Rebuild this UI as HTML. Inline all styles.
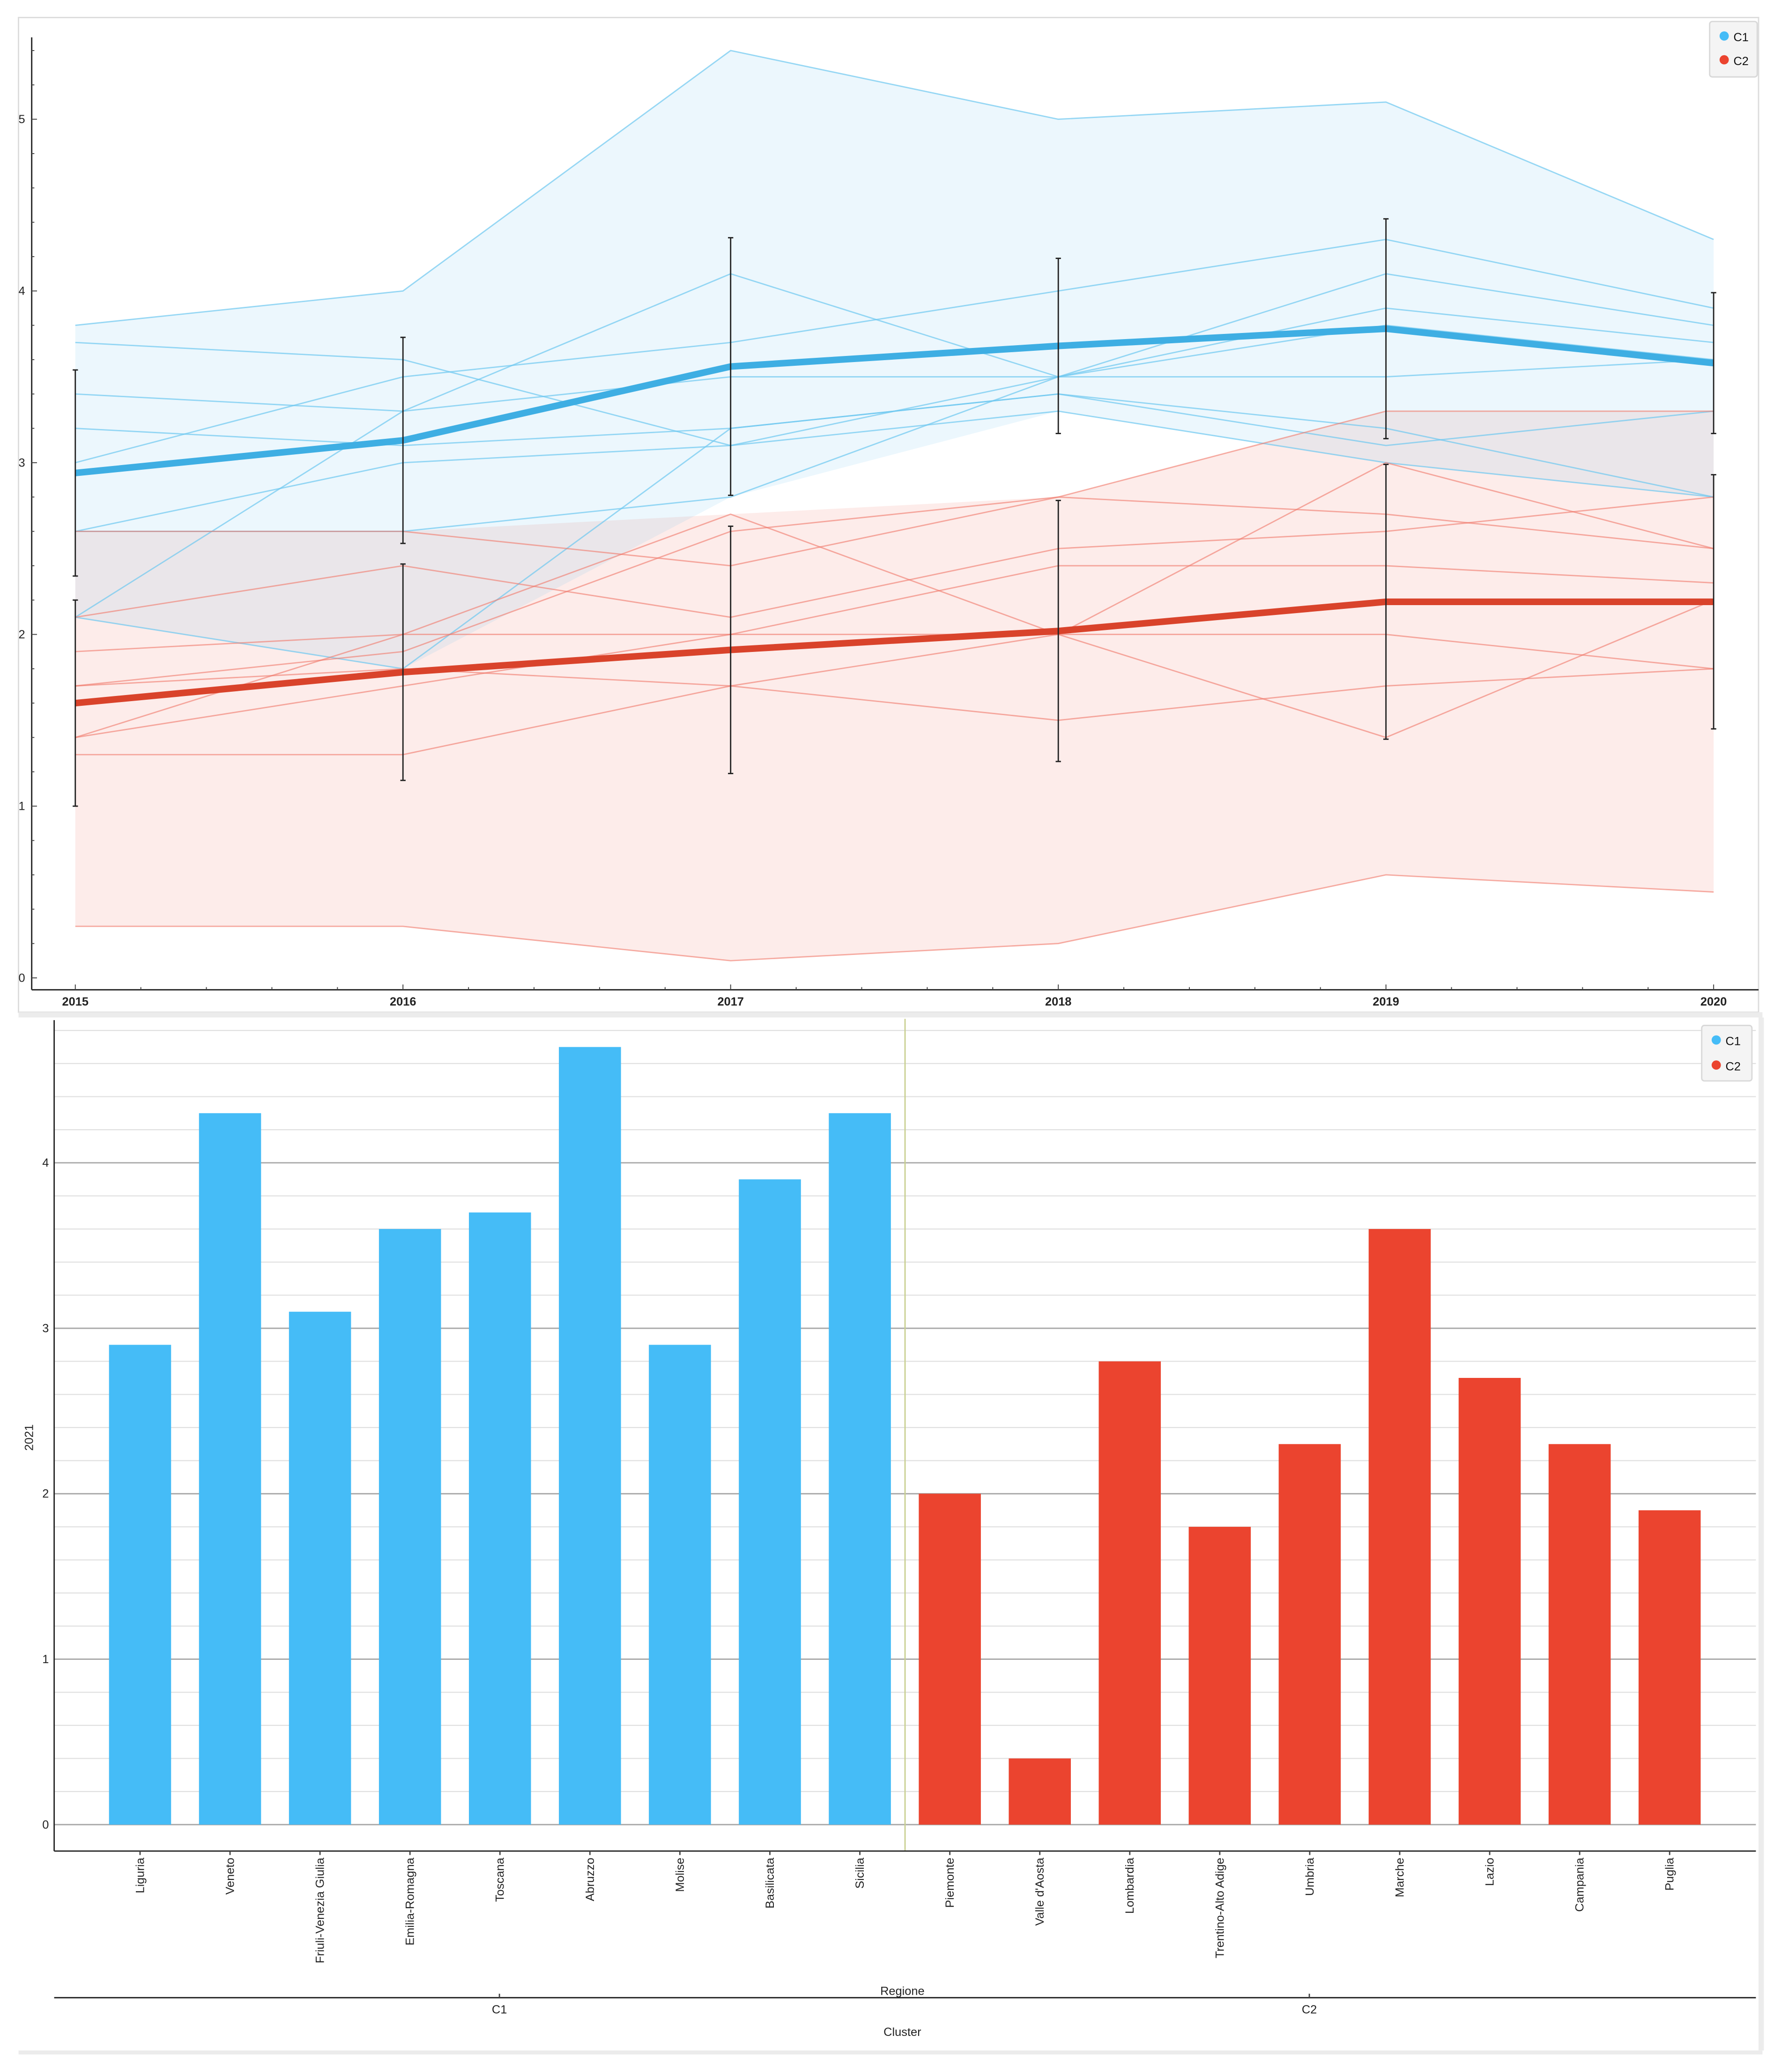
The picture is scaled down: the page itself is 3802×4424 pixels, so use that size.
<!DOCTYPE html>
<html><head><meta charset="utf-8"><style>
html,body{margin:0;padding:0;background:#fff;}
svg{display:block;font-family:"Liberation Sans",sans-serif;}
</style></head><body>
<svg id="root" width="3802" height="4424" viewBox="0 0 1348 1568" xmlns="http://www.w3.org/2000/svg">
<g id="topPanel"></g>
<g id="botPanel"></g>
</svg>
<script>
// ---- Top chart data ----
const years = [2015, 2016, 2017, 2018, 2019, 2020];
const c1Series = [
 [3.8,4.0,5.4,5.0,5.1,4.3],
 [3.7,3.6,3.1,3.5,3.9,3.7],
 [3.4,3.3,3.5,3.5,3.5,3.6],
 [3.2,3.1,3.2,3.4,3.1,3.3],
 [3.0,3.5,3.7,4.0,4.3,3.9],
 [2.6,3.0,3.1,3.3,3.0,2.8],
 [2.6,2.6,2.8,3.5,4.1,3.8],
 [2.1,3.3,4.1,3.5,3.8,3.6],
 [2.1,1.8,3.2,3.4,3.2,2.8]
];
const c2Series = [
 [2.6,2.6,2.4,2.8,2.7,2.5],
 [2.1,2.4,2.1,2.5,2.6,2.8],
 [1.9,2.0,2.0,2.0,2.0,1.8],
 [1.7,1.8,1.7,1.5,1.7,1.8],
 [1.7,1.9,2.6,2.8,3.3,3.3],
 [1.4,2.0,2.7,2.0,1.4,2.2],
 [1.4,1.7,2.0,2.4,2.4,2.3],
 [1.3,1.3,1.7,2.0,3.0,2.5],
 [0.3,0.3,0.1,0.2,0.6,0.5]
];
const c1Mean = [2.94,3.13,3.56,3.68,3.78,3.58];
const c2Mean = [1.60,1.78,1.91,2.02,2.19,2.19];
const c1Sd = [0.60,0.60,0.75,0.51,0.64,0.41];
const c2Sd = [0.60,0.63,0.72,0.76,0.80,0.74];
const topYTicks = [0,1,2,3,4,5];

// ---- Bottom chart data ----
const regions = ["Liguria","Veneto","Friuli-Venezia Giulia","Emilia-Romagna","Toscana","Abruzzo","Molise","Basilicata","Sicilia","Piemonte","Valle d'Aosta","Lombardia","Trentino-Alto Adige","Umbria","Marche","Lazio","Campania","Puglia"];
const clusters = ["C1","C1","C1","C1","C1","C1","C1","C1","C1","C2","C2","C2","C2","C2","C2","C2","C2","C2"];
const values2021 = [2.9,4.3,3.1,3.6,3.7,4.7,2.9,3.9,4.3,2.0,0.4,2.8,1.8,2.3,3.6,2.7,2.3,1.9];
const botYTicks = [0,1,2,3,4];

const NS = "http://www.w3.org/2000/svg";
function mk(parent, tag, attrs, text){
  const el = document.createElementNS(NS, tag);
  for (const k in attrs) el.setAttribute(k, attrs[k]);
  if (text !== undefined) el.textContent = text;
  parent.appendChild(el);
  return el;
}
const COL = {C1:"#45bcf7", C2:"#eb442f"};

// ===== TOP =====
const topG = document.getElementById('topPanel');
const tx = y => 57 + (y - 2015) * 248;
const ty = v => 740 - v * 130;
let e;
e = mk(topG,'rect',{x:14,y:13,width:1317,height:753,fill:'#fff',stroke:'#dcdcdc','stroke-width':1});



function band(series, fill, name){
  const mx = years.map((_,i)=>Math.max(...series.map(s=>s[i])));
  const mn = years.map((_,i)=>Math.min(...series.map(s=>s[i])));
  let d = years.map((y,i)=>(i?'L':'M')+tx(y)+','+ty(mx[i])).join('');
  for (let i=years.length-1;i>=0;i--) d += 'L'+tx(years[i])+','+ty(mn[i]);
  const p = mk(topG,'path',{d:d+'Z',fill:fill,stroke:'none'});
  
  
}
band(c2Series,'rgba(243,110,90,0.13)','c2-range-band');
band(c1Series,'rgba(80,185,240,0.11)','c1-range-band');
function thin(series, stroke, prefix){
  series.forEach((s)=>{
    const d = s.map((v,i)=>(i?'L':'M')+tx(years[i])+','+ty(v)).join('');
    const p = mk(topG,'path',{d:d,fill:'none',stroke:stroke,'stroke-width':1});
    
    
  });
}
thin(c1Series,'rgba(110,200,240,0.7)','c1');
thin(c2Series,'rgba(240,120,105,0.6)','c2');
function meanLine(m, sd, color, name){
  const d = m.map((v,i)=>(i?'L':'M')+tx(years[i])+','+ty(v)).join('');
  const p = mk(topG,'path',{d:d,fill:'none',stroke:color,'stroke-width':5});
  
  
  m.forEach((v,i)=>{
    const x = tx(years[i]);
    const g = mk(topG,'g',{stroke:'#222','stroke-width':1});
    
    
    mk(g,'line',{x1:x,x2:x,y1:ty(v+sd[i]),y2:ty(v-sd[i])});
    mk(g,'line',{x1:x-2,x2:x+2,y1:ty(v+sd[i]),y2:ty(v+sd[i])});
    mk(g,'line',{x1:x-2,x2:x+2,y1:ty(v-sd[i]),y2:ty(v-sd[i])});
  });
}
meanLine(c1Mean,c1Sd,'#3eaee3','c1');
meanLine(c2Mean,c2Sd,'#d9432b','c2');
e = mk(topG,'line',{x1:24,x2:24,y1:28,y2:749,stroke:'#222','stroke-width':1});


e = mk(topG,'line',{x1:24,x2:1331,y1:749,y2:749,stroke:'#222','stroke-width':1});


for (let k=0; k<=27; k++){
  const v = k*0.2;
  const major = k%5===0;
  mk(topG,'line',{x1:24,x2:major?28:26,y1:ty(v),y2:ty(v),stroke:'#444','stroke-width':0.7});
}
topYTicks.forEach(v=>{
  const t = mk(topG,'text',{x:19,y:ty(v)+3,'font-size':9,'text-anchor':'end',fill:'#222'},String(v));
  
  
});
for (let k=0; k<=25; k++){
  const y = 2015 + k*0.2;
  const major = k%5===0;
  mk(topG,'line',{x1:tx(y),x2:tx(y),y1:749,y2:major?745:747,stroke:'#444','stroke-width':0.7});
}
years.forEach(y=>{
  const t = mk(topG,'text',{x:tx(y),y:761,'font-size':9,'font-weight':'bold','text-anchor':'middle',fill:'#222'},String(y));
  
  
});
function legend(parent, x, y, w, h, gap, name){
  const g = mk(parent,'g',{});
  
  
  mk(g,'rect',{x:x,y:y,width:w,height:h,rx:2,fill:'#f4f4f4',stroke:'#d8d8d8'});
  ['C1','C2'].forEach((c,i)=>{
    const it = mk(g,'g',{});
    
    
    mk(it,'circle',{cx:x+11,cy:y+11+i*gap,r:3.5,fill:COL[c]});
    mk(it,'text',{x:x+18,y:y+15+i*gap,'font-size':9,fill:'#111'},c);
  });
}
legend(topG,1294,16,36,42,18,'top-legend');
e = mk(topG,'rect',{x:14,y:766,width:1320,height:4,fill:'#ececec'});



// ===== BOTTOM =====
const botG = document.getElementById('botPanel');
const by = v => 1381 - v * 125.25;
const bx = i => 106 + i * 68.1;
e = mk(botG,'rect',{x:1331,y:770,width:4,height:782,fill:'#ececec'});


for (let k=0; k<=24; k++){
  const v = k*0.2;
  const major = k%5===0;
  const l = mk(botG,'line',{x1:41,x2:1329,y1:by(v),y2:by(v),stroke:major?'#a8a8a8':'#e0e0e0','stroke-width':major?1:0.8});
  
  
}
values2021.forEach((v,i)=>{
  const r = mk(botG,'rect',{x:bx(i)-23.5,y:by(v),width:47,height:by(0)-by(v),fill:COL[clusters[i]]});
  
  
});
e = mk(botG,'line',{x1:685,x2:685,y1:771,y2:1401,stroke:'#c8cf90','stroke-width':1});


e = mk(botG,'line',{x1:41,x2:41,y1:772,y2:1401,stroke:'#222'});


e = mk(botG,'line',{x1:41,x2:1329,y1:1401,y2:1401,stroke:'#222'});


botYTicks.forEach(v=>{
  const t = mk(botG,'text',{x:37,y:by(v)+3,'font-size':9,'text-anchor':'end',fill:'#222'},String(v));
  
  
});
e = mk(botG,'text',{x:0,y:0,'font-size':9,'text-anchor':'middle',fill:'#222',transform:'translate(25,1088) rotate(-90)'},'2021');


regions.forEach((r,i)=>{
  mk(botG,'line',{x1:bx(i),x2:bx(i),y1:1401,y2:1404,stroke:'#444'});
  const t = mk(botG,'text',{x:0,y:0,'font-size':9,'text-anchor':'end',fill:'#222',transform:`translate(${bx(i)+3},1406) rotate(-90)`},r);
  
  
});
e = mk(botG,'text',{x:683,y:1510,'font-size':9,'text-anchor':'middle',fill:'#222'},'Regione');


e = mk(botG,'line',{x1:41,x2:1329,y1:1512,y2:1512,stroke:'#222'});


[['C1',378],['C2',991]].forEach(([c,x])=>{
  mk(botG,'line',{x1:x,x2:x,y1:1509,y2:1512,stroke:'#444'});
  const t = mk(botG,'text',{x:x,y:1524,'font-size':9,'text-anchor':'middle',fill:'#222'},c);
  
  
});
e = mk(botG,'text',{x:683,y:1541,'font-size':9,'text-anchor':'middle',fill:'#222'},'Cluster');


e = mk(botG,'rect',{x:14,y:1552,width:1320,height:3,fill:'#ececec'});


legend(botG,1288,776,38,42,19,'bottom-legend');
</script>
</body></html>
